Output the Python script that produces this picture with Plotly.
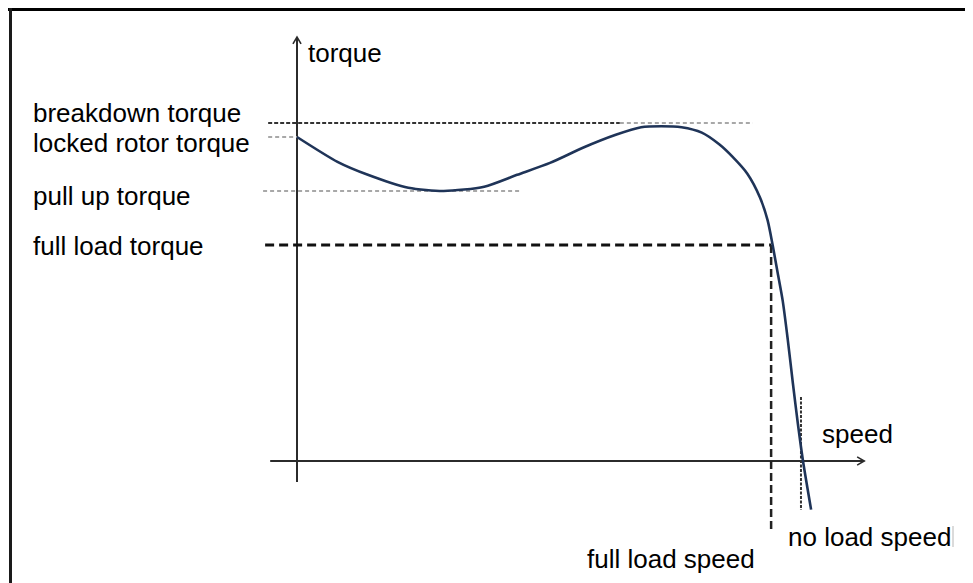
import plotly.graph_objects as go

# ---------------- data (speed: % of no-load speed, torque: % of full-load torque)
speed_curve = [0, 8, 14, 22, 29, 37, 43.5, 50, 56.5, 63, 68, 72, 76, 80, 83.5, 86,
               89, 91.5, 93, 94, 95, 96, 97, 98, 99, 100, 101.6]
torque_curve = [150, 138.5, 132.5, 126.5, 125, 127, 132.5, 138, 145, 151, 154.5, 155,
                154.5, 152, 146.5, 141, 133, 122, 111.5, 100, 87, 74, 56, 36,
                17, 0, -22.5]

level_labels = ["breakdown torque", "locked rotor torque", "pull up torque", "full load torque"]
level_values = [156.5, 150, 125, 100]

full_load_speed = 93.7
no_load_speed = 99.6

axis_labels = ["torque", "speed"]
speed_labels = ["full load speed", "no load speed"]

# ---------------- geometry (page has an 8px body margin)
OFF = 8
W, H = 973 - OFF, 583 - OFF
X0, SX = 297 - OFF, 5.06   # figure px of speed 0, px per unit
Y0, SY = 461 - OFF, 2.16   # figure px of torque 0, px per unit
x_range = [-X0 / SX, (W - X0) / SX]
y_range = [(Y0 - H) / SY, Y0 / SY]

FONT = "Liberation Sans, Arial, sans-serif"
CURVE = "#1f3458"
AXIS = "#2b2b2b"

fig = go.Figure()


def seg(xs, ys, color, width, dash="solid"):
    fig.add_trace(go.Scatter(x=xs, y=ys, mode="lines",
                             line=dict(color=color, width=width, dash=dash),
                             hoverinfo="skip", showlegend=False))


# axes with open arrowheads
v_bottom, v_top = -9.7, 196.3
h_left, h_right = -5.3, 112.1
seg([0, 0], [v_bottom, v_top], AXIS, 2)
seg([-0.8, 0, 0.8], [v_top - 3.2, v_top, v_top - 3.2], AXIS, 1.6)
seg([h_left, h_right], [0, 0], AXIS, 2)
seg([h_right - 1.4, h_right, h_right - 1.4], [1.9, 0, -1.9], AXIS, 1.6)

# torque level reference lines
bd, lr, pu, fl = level_values
seg([-5.7, 63.8], [bd, bd], "#333333", 2, "4px,2px")
seg([63.8, 90.1], [bd, bd], "#a8a8a8", 2, "4px,3px")
seg([-5.7, 0], [lr, lr], "#a8a8a8", 2, "4px,3px")
seg([-6.7, 44.1], [pu, pu], "#a8a8a8", 2, "4px,3px")
seg([-6.3, full_load_speed], [fl, fl], "#111111", 3, "9px,5px")

# speed reference lines
seg([full_load_speed, full_load_speed], [fl, -32.9], "#222222", 2.5, "8px,4px")
seg([no_load_speed, no_load_speed], [29.6, -22.7], "#333333", 2, "3px,1.5px")

# torque-speed curve
fig.add_trace(go.Scatter(x=speed_curve, y=torque_curve, mode="lines",
                         line=dict(color=CURVE, width=2.6, shape="spline", smoothing=0.7),
                         hoverinfo="skip", showlegend=False))


# ---------------- text labels (positions given in page pixels)
def label(text, px, py):
    fig.add_annotation(text=text, xref="paper", yref="paper",
                       x=(px - OFF) / W, y=1 - (py - OFF) / H,
                       xanchor="left", yanchor="middle",
                       showarrow=False, borderpad=0,
                       font=dict(family=FONT, size=26, color="black"))


for t, py in zip(level_labels, [113.3, 143.0, 196.5, 245.5]):
    label(t, 32, py)
label(axis_labels[0], 307, 53)
label(axis_labels[1], 821, 434)
label(speed_labels[0], 586, 558.5)
label(speed_labels[1], 787, 536.5)

# ---------------- frame (top & left border of the picture)
shapes = [
    dict(type="line", xref="paper", yref="paper", x0=0, x1=1,
         y0=1 - 1.5 / H, y1=1 - 1.5 / H, line=dict(color="black", width=3)),
    dict(type="line", xref="paper", yref="paper", x0=2.5 / W, x1=2.5 / W,
         y0=1, y1=0, line=dict(color="#1a1a1a", width=3)),
    dict(type="line", xref="paper", yref="paper", x0=(953 - OFF) / W, x1=(953 - OFF) / W,
         y0=1 - (526 - OFF) / H, y1=1 - (547 - OFF) / H,
         line=dict(color="#cfcfcf", width=1.5)),
]

fig.update_layout(
    width=W, height=H, autosize=False,
    margin=dict(l=0, r=0, t=0, b=0),
    paper_bgcolor="white", plot_bgcolor="white",
    xaxis=dict(range=x_range, visible=False, fixedrange=True),
    yaxis=dict(range=y_range, visible=False, fixedrange=True),
    shapes=shapes,
    showlegend=False,
)

fig.write_html("out.html")
